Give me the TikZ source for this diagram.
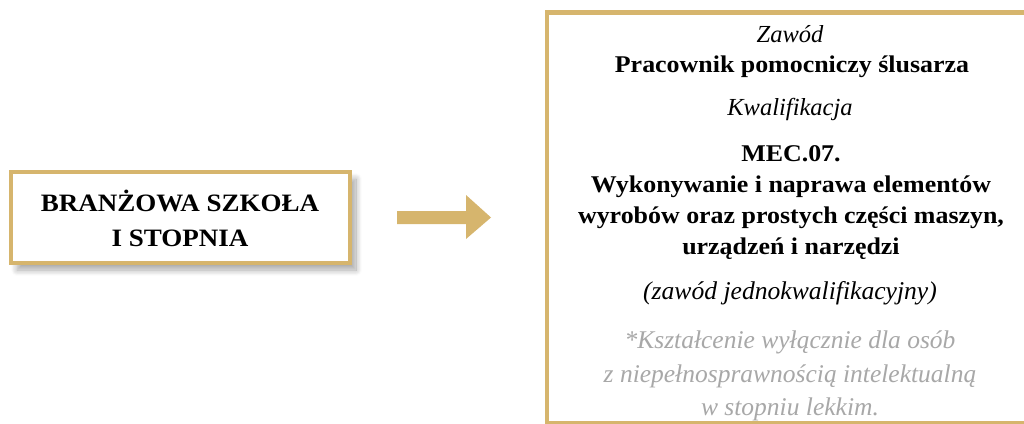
\documentclass[tikz,border=0pt]{standalone}
\usepackage{fontspec}
\setmainfont{Liberation Serif}[BoldFeatures={FakeStretch=1.08}]
\usetikzlibrary{shadows.blur}
\definecolor{gold}{HTML}{D6B56D}
\definecolor{note}{HTML}{A8A8A8}
\tikzset{
  goldbox/.style={draw=gold, line width=4.5pt, fill=white, inner sep=0pt},
  txt/.style={inner sep=0pt, align=center, font=\fontsize{24}{31}\selectfont},
  btxt/.style={txt, font=\fontsize{24}{31}\selectfont\bfseries},
  itxt/.style={txt, font=\fontsize{24.5}{31}\selectfont\itshape},
  ntxt/.style={txt, text=note, font=\fontsize{25.5}{33.5}\selectfont\itshape},
}
\begin{document}
\begin{tikzpicture}[x=1pt,y=-1pt]
\useasboundingbox (0,0) rectangle (1024,423);
% left box
\node[goldbox, minimum width=339pt, minimum height=91pt,
      blur shadow={shadow xshift=6pt, shadow yshift=-7pt, shadow blur steps=14, shadow blur radius=6pt, shadow opacity=35}]
  (school) at (180.5,217.5) {};
\node[btxt, font=\fontsize{25}{35}\selectfont\bfseries] (schooltxt) at (180,218.5) {BRANŻOWA SZKOŁA\\I STOPNIA};
% arrow
\coordinate (arrowstart) at (397,217.5);
\fill[gold] (arrowstart) ++(0,-6.5) -- ++(69,0) -- ++(0,-16) -- (491,217.5) -- (466,239) -- ++(0,-15) -- ++(-69,0) -- cycle;
% right box
\node[goldbox, minimum width=600pt, minimum height=411pt, anchor=north west] (job) at (544.5,10) {};
\node[itxt] (t1) at (790,34) {Zawód};
\node[btxt] (t2) at (792,67) {Pracownik pomocniczy ślusarza};
\node[itxt] (t3) at (790,109) {Kwalifikacja};
\node[btxt] (t4) at (791,203) {MEC.07.\\Wykonywanie i naprawa elementów\\wyrobów oraz prostych części maszyn,\\urządzeń i narzędzi};
\node[itxt, font=\fontsize{25.6}{31}\selectfont\itshape] (t5) at (790,293) {(zawód jednokwalifikacyjny)};
\node[ntxt] (t6) at (790,376) {*Kształcenie wyłącznie dla osób\\z niepełnosprawnością intelektualną\\w stopniu lekkim.};
\end{tikzpicture}
\end{document}
